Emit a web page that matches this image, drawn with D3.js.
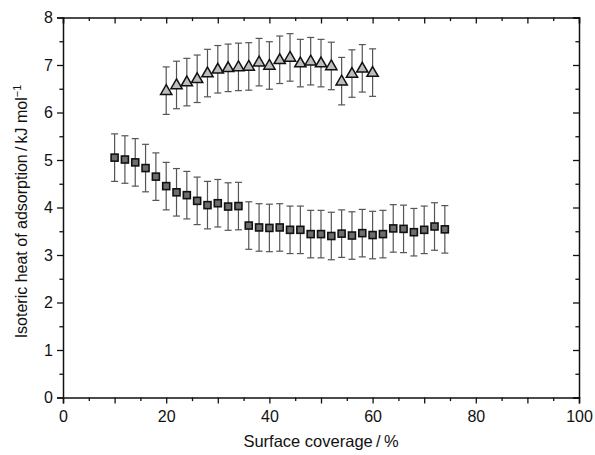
<!DOCTYPE html>
<html>
<head>
<meta charset="utf-8">
<script src="https://cdn.jsdelivr.net/npm/d3@7"></script>
<style>
  body { margin: 0; background: #fff; }
  svg text { font-family: "Liberation Sans", Arial, sans-serif; fill: #111; }
</style>
</head>
<body>
<div id="chart"></div>
<script>
// surface coverage (%) for each series
const triX = [20, 22, 24, 26, 28, 30, 32, 34, 36, 38, 40, 42, 44, 46, 48, 50, 52, 54, 56, 58, 60];
const triY = [6.46, 6.58, 6.64, 6.71, 6.83, 6.91, 6.94, 6.96, 6.97, 7.06, 6.99, 7.11, 7.16, 7.04, 7.08, 7.04, 6.98, 6.66, 6.82, 6.93, 6.84];
const triErr = [0.5, 0.5, 0.5, 0.5, 0.5, 0.5, 0.5, 0.5, 0.5, 0.5, 0.5, 0.5, 0.5, 0.5, 0.5, 0.5, 0.5, 0.5, 0.5, 0.5, 0.5];

const sqX = [10, 12, 14, 16, 18, 20, 22, 24, 26, 28, 30, 32, 34, 36, 38, 40, 42, 44, 46, 48, 50, 52, 54, 56, 58, 60, 62, 64, 66, 68, 70, 72, 74];
const sqY = [5.05, 5.01, 4.95, 4.83, 4.65, 4.45, 4.32, 4.26, 4.14, 4.05, 4.09, 4.02, 4.03, 3.62, 3.58, 3.57, 3.58, 3.53, 3.53, 3.44, 3.44, 3.40, 3.45, 3.41, 3.46, 3.42, 3.44, 3.56, 3.55, 3.48, 3.53, 3.60, 3.54];
const sqErr = [0.5, 0.5, 0.5, 0.5, 0.5, 0.5, 0.5, 0.5, 0.5, 0.5, 0.5, 0.5, 0.5, 0.5, 0.5, 0.5, 0.5, 0.5, 0.5, 0.5, 0.5, 0.5, 0.5, 0.5, 0.5, 0.5, 0.5, 0.5, 0.5, 0.5, 0.5, 0.5, 0.5];

const xLabels = [0, 20, 40, 60, 80, 100];
const yLabels = [0, 1, 2, 3, 4, 5, 6, 7, 8];

const W = 595, H = 455;
const margin = { top: 17.5, right: 16, bottom: 57.5, left: 63 };

const svg = d3.select("#chart").append("svg")
    .attr("width", W)
    .attr("height", H);

const x = d3.scaleLinear().domain([0, 100]).range([margin.left, W - margin.right]);
const y = d3.scaleLinear().domain([0, 8]).range([H - margin.bottom, margin.top]);

const fmt = v => xLabels.includes(v) ? String(v) : "";
const fmtY = v => yLabels.includes(v) ? String(v) : "";

// minor ticks first, then majors on top
function drawAxis(axisFn, scale, tr, major, minor, len, labels) {
    svg.append("g").attr("transform", tr)
        .call(axisFn(scale).tickValues(minor).tickSize(len * 0.6).tickFormat(""))
        .call(g => g.select(".domain").remove());
    const g = svg.append("g").attr("transform", tr)
        .call(axisFn(scale).tickValues(major).tickSize(len).tickPadding(4)
            .tickFormat(labels ? labels : ""));
    return g;
}

const minorX = d3.range(5, 100, 10);
const majorX = d3.range(0, 101, 10);
const minorY = d3.range(0.5, 8, 1);
const majorY = d3.range(0, 9, 1);

const axBottom = drawAxis(d3.axisBottom, x, `translate(0,${y(0)})`, majorX, minorX, 6, fmt);
drawAxis(d3.axisTop, x, `translate(0,${y(8)})`, majorX, minorX, -6, null);
drawAxis(d3.axisLeft, y, `translate(${x(0)},0)`, majorY, minorY, 6, fmtY);
drawAxis(d3.axisRight, y, `translate(${x(100)},0)`, majorY, minorY, -6, null);

svg.selectAll(".domain").attr("stroke", "#111").attr("stroke-width", 1.5);
svg.selectAll(".tick line").attr("stroke", "#111").attr("stroke-width", 1.3);
svg.selectAll(".tick text").attr("font-size", 16).attr("fill", "#111")
    .attr("font-family", "Liberation Sans, Arial, sans-serif");
axBottom.selectAll(".tick text").attr("dy", "0.9em");

// error bars
function errorBars(xs, ys, es) {
    const g = svg.append("g").attr("stroke", "#555").attr("stroke-width", 1.2);
    xs.forEach((xv, i) => {
        const cx = x(xv), lo = y(ys[i] - es[i]), hi = y(ys[i] + es[i]);
        g.append("line").attr("x1", cx).attr("x2", cx).attr("y1", lo).attr("y2", hi);
        g.append("line").attr("x1", cx - 3.5).attr("x2", cx + 3.5).attr("y1", lo).attr("y2", lo);
        g.append("line").attr("x1", cx - 3.5).attr("x2", cx + 3.5).attr("y1", hi).attr("y2", hi);
    });
}
errorBars(triX, triY, triErr);
errorBars(sqX, sqY, sqErr);

// square markers
svg.append("g").selectAll("rect")
    .data(sqX.map((v, i) => [v, sqY[i]]))
    .join("rect")
    .attr("x", d => x(d[0]) - 3.5)
    .attr("y", d => y(d[1]) - 3.5)
    .attr("width", 7)
    .attr("height", 7)
    .attr("fill", "#6e6e6e")
    .attr("stroke", "#111")
    .attr("stroke-width", 1.6);

// triangle markers
const tri = d3.symbol().type(d3.symbolTriangle).size(55);
svg.append("g").selectAll("path")
    .data(triX.map((v, i) => [v, triY[i]]))
    .join("path")
    .attr("d", tri)
    .attr("transform", d => `translate(${x(d[0])},${y(d[1]) + 0.5})`)
    .attr("fill", "#bdbdbd")
    .attr("stroke", "#111")
    .attr("stroke-width", 1.5);

// axis titles
svg.append("text")
    .attr("x", (x(0) + x(100)) / 2)
    .attr("y", 447)
    .attr("text-anchor", "middle")
    .attr("font-size", 16.5)
    .text("Surface coverage\u2009/\u2009%");

const yt = svg.append("text")
    .attr("transform", `translate(27,${(y(0) + y(8)) / 2 + 4}) rotate(-90)`)
    .attr("text-anchor", "middle")
    .attr("font-size", 16);
yt.append("tspan").text("Isoteric heat of adsorption\u2009/\u2009kJ mol");
yt.append("tspan").attr("font-size", 11).attr("dy", -6).text("\u22121");
</script>
</body>
</html>
